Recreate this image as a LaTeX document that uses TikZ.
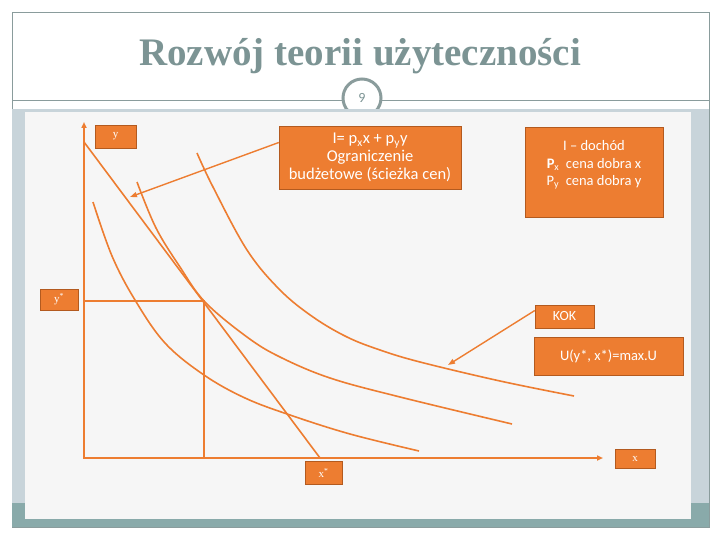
\documentclass[tikz,border=0pt]{standalone}
\usepackage{fontspec}
\setmainfont{Liberation Serif}
\newfontfamily\boxfont[Ligatures=TeX]{Carlito}
\usetikzlibrary{arrows.meta}

\definecolor{pporange}{HTML}{ED7D31}
\definecolor{ppedge}{HTML}{B35A1F}
\definecolor{titlegray}{HTML}{7C9494}
\definecolor{rulegray}{HTML}{8A9C9C}
\definecolor{sideblue}{HTML}{C8D4DA}
\definecolor{stripteal}{HTML}{89AAAA}
\definecolor{paper}{HTML}{F6F6F6}

\tikzset{
  obox/.style={draw=ppedge,fill=pporange,text=white,inner sep=0pt,align=center,
    font=\boxfont\fontsize{14}{16.5}\selectfont},
  axbox/.style={draw=ppedge,fill=pporange,text=white,inner sep=0pt,
    font=\fontsize{11}{12}\selectfont},
  curve/.style={pporange,line width=1.6pt},
  pointer/.style={pporange,line width=1.4pt,-{Triangle[length=7pt,width=5pt]}},
}

\begin{document}
\begin{tikzpicture}[x=1pt,y=-1pt]
\useasboundingbox (0,0) rectangle (720,540);
\fill[white] (0,0) rectangle (720,540);
% slide frame and title
\draw[rulegray,line width=0.8pt] (12,12) rectangle (709,527);
\node[text=titlegray,font=\bfseries\fontsize{39}{42}\selectfont] (title) at (360,56) {Rozwój teorii użyteczności};
\draw[rulegray,line width=0.8pt] (12,100) -- (709,100);
\node[circle,draw=rulegray,line width=3pt,fill=white,minimum size=38pt,inner sep=0pt,
  text=titlegray,font=\boxfont\fontsize{14}{14}\selectfont] (pagenum) at (362,98) {9};
% picture panel
\fill[sideblue] (12,109) rectangle (709,527);
\fill[stripteal] (12,503) rectangle (709,527);
\fill[paper] (25,112) rectangle (691,519);
% axes
\coordinate (O) at (84,458);
\coordinate (ytop) at (84,122);
\coordinate (xend) at (603,458);
\draw[curve,line width=2pt,{Triangle[length=6pt,width=5pt]}-{Triangle[length=6pt,width=5pt]}] (ytop) -- (O) -- (xend);
% budget line and optimum
\coordinate (bA) at (84,142);
\coordinate (bB) at (320,458);
\coordinate (T) at (204,301);
\draw[curve] (bA) -- (bB);
\draw[curve] (O |- T) -- (T) -- (T |- O);
% indifference curves
\draw[curve] plot[smooth,tension=0.6] coordinates {(93,202) (112,256) (135,300) (165,343) (204,375) (245,398) (290,415) (350,434) (419,451)};
\draw[curve] plot[smooth,tension=0.6] coordinates {(137,182) (156,228) (180,267) (205,302) (247,337) (280,357) (330,378) (400,397) (512,424)};
\draw[curve] plot[smooth,tension=0.6] coordinates {(197,153) (213,187) (247,250) (280,290) (313,317) (347,337) (380,350) (420,362) (500,381) (574,396)};
% labels
\node[axbox,minimum width=41pt,minimum height=23pt] (ylab) at (115.5,136.5) {y};
\node[axbox,minimum width=38pt,minimum height=21pt] (ystar) at (59,299.5) {y\textsuperscript{*}};
\node[axbox,minimum width=37pt,minimum height=23pt] (xstar) at (323.5,472.5) {x\textsuperscript{*}};
\node[axbox,minimum width=40pt,minimum height=19pt] (xlab) at (635,458.5) {x};
\node[obox,minimum width=182pt,minimum height=63pt,font=\boxfont\fontsize{16.5}{18}\selectfont] (budget) at (370,157.5)
  {I= p\textsubscript{x}x + p\textsubscript{y}y\\Ograniczenie\\budżetowe (ścieżka cen)};
\node[obox,minimum width=138pt,minimum height=90pt,font=\boxfont\fontsize{14.5}{17.5}\selectfont] (legend) at (594,172)
  {I – dochód\\\textbf{P}\textsubscript{x}\ \ cena dobra x\\P\textsubscript{y}\ \ cena dobra y\\[0pt]\mbox{}};
\node[obox,minimum width=59pt,minimum height=23pt] (kok) at (564.5,316.5) {KOK};
\node[obox,minimum width=149pt,minimum height=38pt,font=\boxfont\fontsize{14.5}{16}\selectfont] (umax) at (608.5,356) {U(y*, x*)=max.U};
% pointers
\coordinate (budtip) at (130,197);
\coordinate (koktip) at (448,365);
\draw[pointer] ([yshift=15pt]budget.west) -- (budtip);
\draw[pointer] ([yshift=6pt]kok.west) -- (koktip);
\end{tikzpicture}
\end{document}
